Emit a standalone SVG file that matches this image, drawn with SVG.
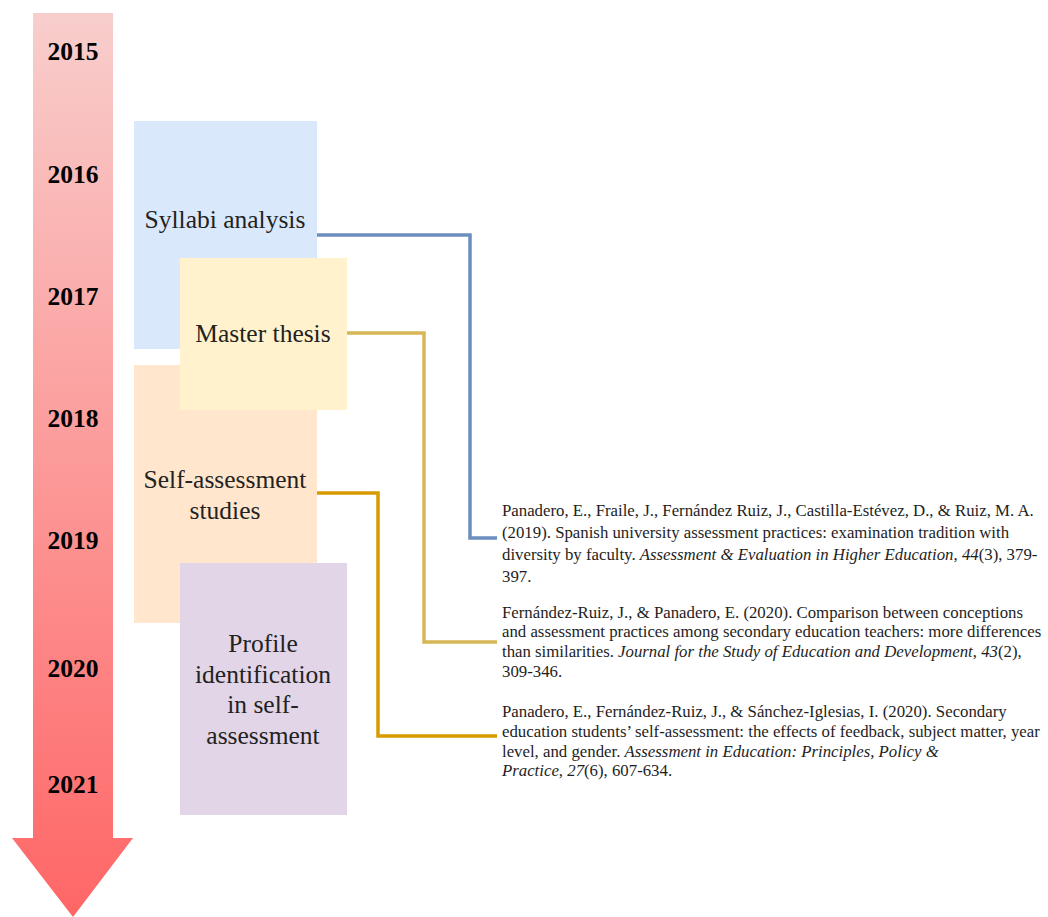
<svg xmlns="http://www.w3.org/2000/svg" width="1048" height="917" viewBox="0 0 1048 917">
  <defs>
    <linearGradient id="timeGrad" x1="0" y1="0" x2="0" y2="1">
      <stop offset="0" stop-color="#f8cecc"/>
      <stop offset="1" stop-color="#ff6666"/>
    </linearGradient>
    <style>
      .year { font-family: "Liberation Serif", "Times New Roman", serif; font-weight: bold; font-size: 25.5px; fill: #000; text-anchor: middle; }
      .label { font-family: "Liberation Serif", "Times New Roman", serif; font-size: 25.5px; fill: #222; text-anchor: middle; }
      .ref { font-family: "Liberation Serif", "Times New Roman", serif; font-size: 16.8px; fill: #1e1e1e; }
      .it { font-style: italic; }
      .link { fill: none; stroke-width: 3.5; }
    </style>
  </defs>
  <rect width="1048" height="917" fill="#ffffff"/>

  <!-- timeline arrow -->
  <g id="timeline">
    <polygon points="33,13 113,13 113,838 133,838 73,917 12,838 33,838" fill="url(#timeGrad)"/>
    <text class="year" x="73" y="60">2015</text>
    <text class="year" x="73" y="183">2016</text>
    <text class="year" x="73" y="305">2017</text>
    <text class="year" x="73" y="427">2018</text>
    <text class="year" x="73" y="549">2019</text>
    <text class="year" x="73" y="677">2020</text>
    <text class="year" x="73" y="793">2021</text>
  </g>

  <!-- connectors -->
  <g id="connectors">
    <polyline class="link" stroke="#6c8ebf" points="317,235 470,235 470,538 497,538"/>
    <polyline class="link" stroke="#d6b656" points="347,333 424,333 424,642 497,642"/>
    <polyline class="link" stroke="#d79b00" points="317,493 378,493 378,736 497,736"/>
  </g>

  <!-- project blocks -->
  <g id="syllabi">
    <rect x="134" y="121" width="183" height="228" fill="#dae8fc"/>
    <text class="label" x="225" y="228">Syllabi analysis</text>
  </g>
  <g id="selfassessment">
    <rect x="134" y="365" width="183" height="258" fill="#ffe6cc"/>
    <text class="label" x="225" y="488">Self-assessment</text>
    <text class="label" x="225" y="519">studies</text>
  </g>
  <g id="master">
    <rect x="180" y="258" width="167" height="152" fill="#fff2cc"/>
    <text class="label" x="263" y="342">Master thesis</text>
  </g>
  <g id="profile">
    <rect x="180" y="563" width="167" height="252" fill="#e1d5e7"/>
    <text class="label" x="263" y="652">Profile</text>
    <text class="label" x="263" y="683">identification</text>
    <text class="label" x="263" y="713">in self-</text>
    <text class="label" x="263" y="744">assessment</text>
  </g>

  <!-- references -->
  <g id="ref2019">
    <text class="ref" x="502" y="516">Panadero, E., Fraile, J., Fernández Ruiz, J., Castilla-Estévez, D., &amp; Ruiz, M. A.</text>
    <text class="ref" x="502" y="538">(2019). Spanish university assessment practices: examination tradition with</text>
    <text class="ref" x="502" y="560">diversity by faculty. <tspan class="it">Assessment &amp; Evaluation in Higher Education</tspan>, <tspan class="it">44</tspan>(3), 379-</text>
    <text class="ref" x="502" y="582">397.</text>
  </g>
  <g id="ref2020a">
    <text class="ref" x="502" y="618">Fernández-Ruiz, J., &amp; Panadero, E. (2020). Comparison between conceptions</text>
    <text class="ref" x="502" y="637">and assessment practices among secondary education teachers: more differences</text>
    <text class="ref" x="502" y="657">than similarities. <tspan class="it">Journal for the Study of Education and Development</tspan>, <tspan class="it">43</tspan>(2),</text>
    <text class="ref" x="502" y="677">309-346.</text>
  </g>
  <g id="ref2020b">
    <text class="ref" x="502" y="717">Panadero, E., Fernández-Ruiz, J., &amp; Sánchez-Iglesias, I. (2020). Secondary</text>
    <text class="ref" x="502" y="737">education students’ self-assessment: the effects of feedback, subject matter, year</text>
    <text class="ref" x="502" y="757">level, and gender. <tspan class="it">Assessment in Education: Principles, Policy &amp;</tspan></text>
    <text class="ref" x="502" y="776"><tspan class="it">Practice</tspan>, <tspan class="it">27</tspan>(6), 607-634.</text>
  </g>
</svg>
